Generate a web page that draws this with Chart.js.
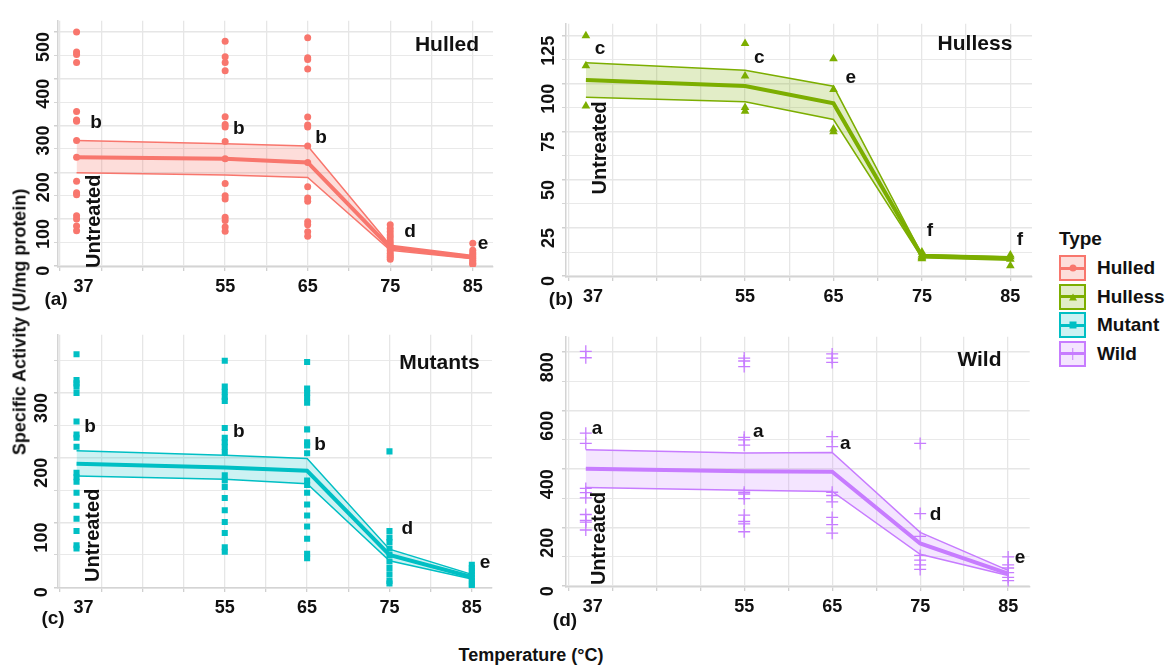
<!DOCTYPE html>
<html>
<head>
<meta charset="utf-8">
<script src="https://cdn.jsdelivr.net/npm/chart.js@4.4.1/dist/chart.umd.min.js"></script>
<style>
  body { margin: 0; background: #fff; }
  #wrap { position: relative; width: 1167px; height: 666px; font-family: "Liberation Sans", Arial, sans-serif; color: #111; }
  canvas { position: absolute; }
  .txt { position: absolute; font-weight: bold; white-space: nowrap; transform: translate(-50%, -50%); }
  .legend { position: absolute; left: 1059px; top: 228px; font-weight: bold; }
  .legend .ltitle { font-size: 19px; height: 26px; line-height: 22px; }
  .legend .item { display: flex; align-items: center; height: 28.5px; font-size: 19px; }
  .legend .key { position: relative; width: 23px; height: 22px; border: 2px solid; margin-right: 11px; }
  .legend .key .ln { position: absolute; left: 0; right: 0; top: 9.5px; height: 3px; }
  .legend .key .mk { position: absolute; left: 50%; top: 50%; transform: translate(-50%, -50%); }
</style>
</head>
<body>
<div id="wrap">
  <canvas id="pa" width="498" height="305" style="left:0;top:0"></canvas>
  <canvas id="pb" width="529" height="315" style="left:508px;top:0"></canvas>
  <canvas id="pc" width="497" height="315" style="left:0;top:312px"></canvas>
  <canvas id="pd" width="529" height="315" style="left:508px;top:312px"></canvas>

  <div class="txt" style="left:56px;top:299px;font-size:19px">(a)</div>
  <div class="txt" style="left:561px;top:299px;font-size:19px">(b)</div>
  <div class="txt" style="left:53px;top:618px;font-size:19px">(c)</div>
  <div class="txt" style="left:565px;top:620px;font-size:19px">(d)</div>
  <div class="txt" style="left:20px;top:322px;font-size:18px;transform:translate(-50%,-50%) rotate(-90deg)">Specific Activity (U/mg protein)</div>
  <div class="txt" style="left:531px;top:655px;font-size:18px">Temperature (°C)</div>
  <div class="legend" id="legend"></div>
</div>

<script>
// temperatures and tick labels
var temps = [37, 55, 65, 75, 85];
var xLabels = [37, 55, 65, 75, 85];

// legend
var types = ['Hulled', 'Hulless', 'Mutant', 'Wild'];
var typeColors = ['#F8766D', '#7CAE00', '#00BFC4', '#C77CFF'];
var typeFills = ['rgba(248,118,109,0.25)', 'rgba(124,174,0,0.22)', 'rgba(0,191,196,0.2)', 'rgba(199,124,255,0.2)'];

// Hulled
var hulledMean = [232, 229, 221, 39, 18];
var hulledUpper = [268, 261, 256, 44, 22];
var hulledLower = [199, 194, 189, 33, 15];
var hulled37 = [500, 457, 452, 435, 330, 312, 309, 268, 232, 181, 156, 152, 107, 100, 85, 75];
var hulled55 = [480, 447, 435, 417, 319, 302, 297, 266, 229, 176, 150, 143, 104, 97, 83, 74];
var hulled65 = [488, 445, 441, 421, 318, 301, 297, 256, 221, 169, 145, 138, 94, 88, 73, 63];
var hulled75 = [88, 80, 73, 66, 60, 53, 47, 42, 37, 32, 27, 22, 18, 14];
var hulled85 = [48, 33, 28, 24, 20, 16, 12, 8, 5, 3];
var hulledLetters = ['b', 'b', 'b', 'd', 'e'];

// Hulless
var hullessMean = [102, 98.8, 89.8, 10.4, 9.2];
var hullessUpper = [111, 107, 98.7, 11.2, 10];
var hullessLower = [93, 90.6, 81.4, 9.5, 8.2];
var hulless37 = [125, 109.4, 88.5];
var hulless55 = [121, 104, 87.7, 85.7];
var hulless65 = [113, 97, 76.5, 75];
var hulless75 = [12.5, 11, 10, 9.5, 9];
var hulless85 = [11, 10, 8.7, 5.4];
var hullessLetters = ['c', 'c', 'e', 'f', 'f'];

// Mutants
var mutantMean = [191, 185, 180, 50, 16];
var mutantUpper = [211, 204, 199, 59, 20];
var mutantLower = [172, 167, 160, 41, 13];
var mutant37 = [360, 320, 315, 310, 300, 256, 236, 231, 217, 177, 170, 163, 146, 126, 106, 87, 65, 60];
var mutant55 = [350, 310, 302, 294, 288, 246, 231, 224, 217, 209, 173, 165, 155, 138, 119, 101, 84, 62, 55];
var mutant65 = [348, 307, 300, 293, 285, 244, 224, 219, 207, 165, 158, 146, 128, 111, 94, 75, 52, 45];
var mutant75 = [210, 87, 77, 70, 60, 50, 40, 30, 20, 10, 6];
var mutant85 = [35, 30, 25, 20, 15, 10, 5, 1];
var mutantLetters = ['b', 'b', 'b', 'd', 'e'];

// Wild
var wildMean = [401, 393, 391, 146, 43];
var wildUpper = [466, 455, 457, 184, 54];
var wildLower = [337, 328, 324, 109, 36];
var wild37 = [803, 781, 523, 488, 334, 320, 302, 245, 225, 219, 192];
var wild55 = [780, 770, 751, 509, 500, 482, 321, 315, 299, 243, 221, 213, 186];
var wild65 = [794, 780, 765, 511, 477, 321, 310, 288, 235, 210, 181];
var wild75 = [488, 248, 170, 105, 89, 73, 57];
var wild85 = [100, 73, 62, 46, 30, 19];
var wildLetters = ['a', 'a', 'a', 'd', 'e'];

var FONT = '"Liberation Sans", Arial, sans-serif';

// letters, panel title and "Untreated" drawn in data units
var panelText = {
  id: 'panelText',
  afterDatasetsDraw: function (chart, args, o) {
    var ctx = chart.ctx, xs = chart.scales.x, ys = chart.scales.y;
    ctx.save();
    ctx.fillStyle = '#111';
    ctx.textAlign = 'center';
    ctx.textBaseline = 'middle';
    ctx.font = 'bold 19px ' + FONT;
    for (var i = 0; i < o.letters.length; i++) {
      ctx.fillText(o.letters[i], xs.getPixelForValue(o.letterX[i]), ys.getPixelForValue(o.letterY[i]));
    }
    ctx.font = 'bold 21px ' + FONT;
    ctx.fillText(o.title, xs.getPixelForValue(o.titleAt[0]), ys.getPixelForValue(o.titleAt[1]));
    ctx.translate(xs.getPixelForValue(o.untreatedAt[0]), ys.getPixelForValue(o.untreatedAt[1]));
    ctx.rotate(-Math.PI / 2);
    ctx.textAlign = 'left';
    ctx.font = 'bold 20px ' + FONT;
    ctx.fillText('Untreated', 0, 0);
    ctx.restore();
  }
};

function xy(vals) {
  return temps.map(function (t, i) { return { x: t, y: vals[i] }; });
}

function makePanel(id, p) {
  var pts = [];
  p.points.forEach(function (col, i) {
    col.forEach(function (v) { pts.push({ x: temps[i], y: v }); });
  });
  var yTicks = [];
  for (var v = 0; v <= p.yMax + 0.001; v += p.step) yTicks.push(v);

  return new Chart(document.getElementById(id), {
    type: 'line',
    data: {
      datasets: [
        { data: xy(p.mean), borderColor: p.color, borderWidth: 4, pointRadius: 0, fill: false },
        { data: xy(p.upper), borderColor: p.color, borderWidth: 1.5, pointRadius: 0, fill: false },
        { data: xy(p.lower), borderColor: p.color, borderWidth: 1.5, pointRadius: 0, fill: '-1', backgroundColor: p.fill },
        { data: pts, showLine: false, pointStyle: p.shape, pointRadius: p.r, pointHoverRadius: p.r,
          backgroundColor: p.color, borderColor: p.color, borderWidth: p.shape === 'cross' ? 1.3 : 0 }
      ]
    },
    options: {
      responsive: false,
      animation: false,
      layout: { padding: { left: 0, right: 5, top: 10, bottom: 0 } },
      plugins: {
        legend: { display: false },
        tooltip: { enabled: false },
        panelText: p.text
      },
      scales: {
        x: {
          type: 'linear', min: 34.75, max: 87.45,
          afterBuildTicks: function (s) {
            s.ticks = [35, 37, 40, 45, 50, 55, 60, 65, 70, 75, 80, 85].map(function (v) { return { value: v }; });
          },
          afterFit: function (s) { s.height = p.xH; },
          ticks: {
            padding: 5, color: '#111', font: { family: FONT, size: 18, weight: 'bold' },
            maxRotation: 0, autoSkip: false,
            callback: function (v) {
              if (xLabels.indexOf(v) < 0) return '';
              return v === 37 ? '\u2002 37' : String(v);
            }
          },
          grid: {
            color: function (c) { return c.tick && c.tick.value === 37 ? 'rgba(0,0,0,0)' : '#e6e6e6'; },
            lineWidth: 1.3, tickLength: 4,
            tickColor: function (c) { return c.tick && c.tick.value === 37 ? 'rgba(0,0,0,0)' : '#d0d0d0'; }
          },
          border: { display: true, color: '#d4d4d4', width: 1.5 }
        },
        y: {
          type: 'linear', min: p.yMin, max: p.yTop,
          afterBuildTicks: function (s) {
            s.ticks = yTicks.map(function (v) { return { value: v }; });
          },
          afterFit: function (s) { s.width = 58; },
          ticks: {
            padding: p.yPad, color: '#111', font: { family: FONT, size: 18, weight: 'bold' },
            minRotation: 90, maxRotation: 90, autoSkip: false,
            callback: function (v) { return Math.abs(v / p.major - Math.round(v / p.major)) < 1e-6 ? String(v) : ''; }
          },
          grid: {
            color: '#e6e6e6', tickLength: 4, tickColor: '#d0d0d0',
            lineWidth: function (c) {
              var v = c.tick ? c.tick.value : 0;
              return Math.abs(v / p.major - Math.round(v / p.major)) < 1e-6 ? 1.5 : 0.9;
            }
          },
          border: { display: true, color: '#d4d4d4', width: 1.5 }
        }
      }
    },
    plugins: [panelText]
  });
}

makePanel('pa', {
  color: typeColors[0], fill: typeFills[0], shape: 'circle', r: 3.5,
  mean: hulledMean, upper: hulledUpper, lower: hulledLower,
  points: [hulled37, hulled55, hulled65, hulled75, hulled85],
  yMin: -2.6, yTop: 524, yMax: 500, step: 50, major: 100, yPad: 10, xH: 38,
  text: {
    letters: hulledLetters,
    letterX: [39.35, 56.64, 66.61, 77.4, 86.24],
    letterY: [305, 293, 274, 73, 46.6],
    title: 'Hulled', titleAt: [81.88, 471], untreatedAt: [39.23, -4.6]
  }
});

makePanel('pb', {
  color: typeColors[1], fill: typeFills[1], shape: 'triangle', r: 5,
  mean: hullessMean, upper: hullessUpper, lower: hullessLower,
  points: [hulless37, hulless55, hulless65, hulless75, hulless85],
  yMin: -0.5, yTop: 131.2, yMax: 125, step: 12.5, major: 25, yPad: 13, xH: 38,
  text: {
    letters: hullessLetters,
    letterX: [38.6, 56.61, 66.95, 75.91, 86.09],
    letterY: [118, 113.4, 103.2, 23.5, 18.9],
    title: 'Hulless', titleAt: [81.0, 120.8], untreatedAt: [38.65, 42.4]
  }
});

makePanel('pc', {
  color: typeColors[2], fill: typeFills[2], shape: 'rect', r: 4.3,
  mean: mutantMean, upper: mutantUpper, lower: mutantLower,
  points: [mutant37, mutant55, mutant65, mutant75, mutant85],
  yMin: -1, yTop: 390, yMax: 350, step: 50, major: 100, yPad: 12, xH: 39,
  text: {
    letters: mutantLetters,
    letterX: [38.64, 56.69, 66.57, 77.17, 86.6],
    letterY: [247.4, 241, 220, 90, 38.7],
    title: 'Mutants', titleAt: [81.08, 345.5], untreatedAt: [39.0, 8.3]
  }
});

makePanel('pd', {
  color: typeColors[3], fill: typeFills[3], shape: 'cross', r: 6,
  mean: wildMean, upper: wildUpper, lower: wildLower,
  points: [wild37, wild55, wild65, wild75, wild85],
  yMin: -3, yTop: 852.7, yMax: 800, step: 100, major: 200, yPad: 14, xH: 40,
  text: {
    letters: wildLetters,
    letterX: [38.29, 56.61, 66.49, 76.74, 86.35],
    letterY: [539.5, 527.5, 487.8, 243.4, 97],
    title: 'Wild', titleAt: [81.74, 771], untreatedAt: [38.6, 3.5]
  }
});

// legend built from the type arrays
var markers = [
  'width:7px;height:7px;border-radius:50%;background:',
  'width:0;height:0;border-left:4px solid transparent;border-right:4px solid transparent;border-bottom:7px solid ',
  'width:7px;height:7px;background:',
  'width:1.5px;height:12px;background:'
];
var lg = document.getElementById('legend');
var html = '<div class="ltitle">Type</div>';
types.forEach(function (t, i) {
  var c = typeColors[i];
  html += '<div class="item"><span class="key" style="border-color:' + c + ';background:' + typeFills[i] + '">' +
    '<i class="ln" style="background:' + c + '"></i><i class="mk" style="' + markers[i] + c + '"></i></span>' +
    '<span>' + t + '</span></div>';
});
lg.innerHTML = html;
</script>
</body>
</html>
